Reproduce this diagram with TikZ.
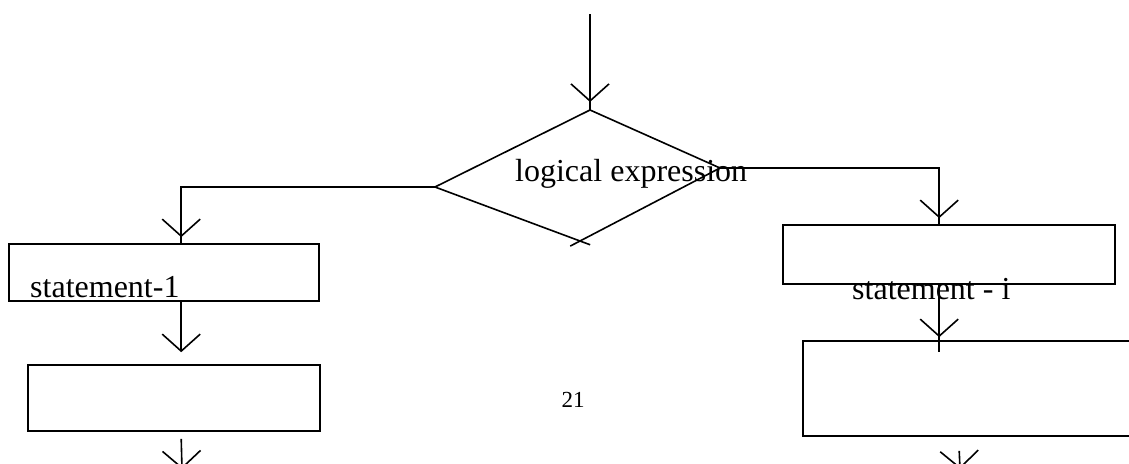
\documentclass[tikz,border=0pt]{standalone}
\usepackage{fontspec}
\setmainfont{Liberation Serif}
\usetikzlibrary{arrows.meta,decorations.markings,calc}
\tikzset{
  conn/.style={line width=1.6pt},
  barbend/.style={-{Straight Barb[length=17pt,width=38pt]}},
  tipat/.style={postaction={decorate},decoration={markings,mark=at position #1 with {\arrow[line width=1.6pt]{Straight Barb[length=17pt,width=38pt]}}}},
  box/.style={draw, line width=1.6pt, rectangle, inner sep=0pt},
  lbl/.style={inner sep=0pt, font=\fontsize{32}{38}\selectfont},
  pagenum/.style={inner sep=0pt, font=\fontsize{23}{27}\selectfont},
}
\begin{document}
\begin{tikzpicture}[x=1pt,y=-1pt]
\useasboundingbox (0,0) rectangle (1129,463);
\clip (0,0) rectangle (1129,463);
% diamond
\coordinate (dT) at (590,110);
\coordinate (dR) at (720,168);
\coordinate (dB) at (580,241);
\coordinate (dL) at (435,187);
\draw[conn] (dL) -- (dT) -- (dR);
\draw[conn] (dL) -- ($(dL)!1.07!(dB)$);
\draw[conn] (dR) -- ($(dR)!1.07!(dB)$);
\node[lbl, anchor=base west] (cond) at (515,181) {logical expression};
% boxes
\node[box, minimum width=310pt, minimum height=57pt] (b1) at (164,272.5) {};
\node[box, minimum width=292pt, minimum height=66pt] (b2) at (174,398) {};
\node[box, minimum width=332pt, minimum height=59pt] (r1) at (949,254.5) {};
\node[box, minimum width=337pt, minimum height=95pt] (r2) at (971.5,388.5) {};
\node[lbl, anchor=base west] (t1) at (30,297) {statement-1};
\node[lbl, anchor=base west] (ti) at (852,299) {statement - i};
\node[pagenum, anchor=base] (pg) at (573,407) {21};
% connectors
\coordinate (top) at (590,14);
\draw[conn, tipat=-8pt] (top) -- (dT);
\draw[conn, tipat=-6pt] (dL) -| ($(b1.north west)+(173,0)$);
\draw[conn, tipat=-6pt] (dR) -| ($(r1.north west)+(157,0)$);
\draw[conn, barbend, shorten >=12pt] ($(b1.south west)+(173,0)$) -- ($(b2.north west)+(154,0)$);
\draw[conn, tipat=-15pt] ($(r1.south west)+(157,0)$) -- ($(r2.north west)+(137,12)$);
\coordinate (bl1) at ($(b2.south west)+(154,7)$);
\coordinate (bl2) at (182,469);
\draw[conn, barbend] (bl1) -- (bl2);
\coordinate (br1) at ($(r2.south west)+(157,14)$);
\coordinate (br2) at (960,469);
\draw[conn, barbend] (br1) -- (br2);
\end{tikzpicture}
\end{document}
